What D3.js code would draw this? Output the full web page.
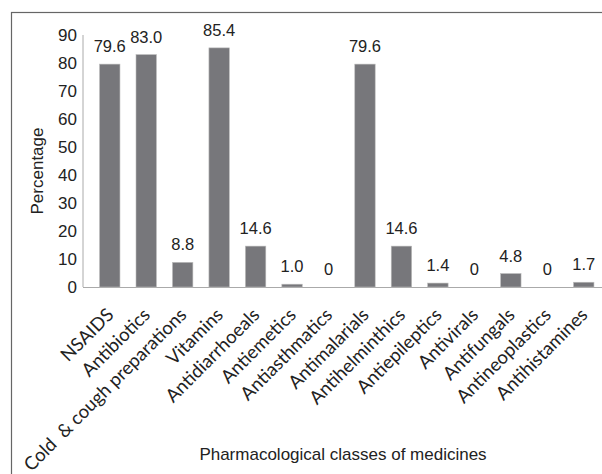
<!DOCTYPE html>
<html>
<head>
<meta charset="utf-8">
<script src="https://cdn.jsdelivr.net/npm/d3@7"></script>
<style>
  body { margin: 0; background: #fff; }
  text { font-family: "Liberation Sans", Arial, sans-serif; }
</style>
</head>
<body>
<div id="chart"></div>
<script>
var categories = ["NSAIDS", "Antibiotics", "Cold  & cough preparations", "Vitamins",
  "Antidiarrhoeals", "Antiemetics", "Antiasthmatics", "Antimalarials",
  "Antihelminthics", "Antiepileptics", "Antivirals", "Antifungals",
  "Antineoplastics", "Antihistamines"];
var values = [79.6, 83.0, 8.8, 85.4, 14.6, 1.0, 0, 79.6, 14.6, 1.4, 0, 4.8, 0, 1.7];
var valueLabels = ["79.6", "83.0", "8.8", "85.4", "14.6", "1.0", "0", "79.6", "14.6", "1.4", "0", "4.8", "0", "1.7"];
var yTicks = [0, 10, 20, 30, 40, 50, 60, 70, 80, 90];

var W = 602, H = 474;
var svg = d3.select("#chart").append("svg").attr("width", W).attr("height", H);

// outer frame
svg.append("rect")
  .attr("x", 11.5).attr("y", 12.5)
  .attr("width", W).attr("height", H)
  .attr("fill", "none").attr("stroke", "#666").attr("stroke-width", 1.2);

var x = d3.scaleBand().domain(categories).range([83.5, 610]).padding(0.44);
var y = d3.scaleLinear().domain([0, 90]).range([287, 35]);

// axes lines
svg.append("line").attr("x1", 83).attr("x2", 83).attr("y1", y(90)).attr("y2", y(0))
  .attr("stroke", "#aaa").attr("stroke-width", 1);
svg.append("line").attr("x1", 83).attr("x2", W).attr("y1", y(0) + 0.5).attr("y2", y(0) + 0.5)
  .attr("stroke", "#aaa").attr("stroke-width", 1.2);

// y tick labels
svg.selectAll(".ytick").data(yTicks).enter().append("text")
  .attr("class", "ytick")
  .attr("x", 77).attr("y", function (d) { return y(d) + 6; })
  .attr("text-anchor", "end").style("font-size", "17px").attr("fill", "#222")
  .text(function (d) { return d; });

// bars
svg.selectAll(".bar").data(values).enter().append("rect")
  .attr("class", "bar")
  .attr("x", function (d, i) { return x(categories[i]); })
  .attr("y", function (d) { return y(d); })
  .attr("width", x.bandwidth())
  .attr("height", function (d) { return y(0) - y(d); })
  .attr("fill", "#77777b")
  .attr("stroke", "#bbb").attr("stroke-width", 0.6);

// value labels
svg.selectAll(".val").data(values).enter().append("text")
  .attr("class", "val")
  .attr("x", function (d, i) { return x(categories[i]) + x.bandwidth() / 2; })
  .attr("y", function (d) { return y(d) - 12; })
  .attr("text-anchor", "middle").style("font-size", "16.5px").attr("fill", "#222")
  .text(function (d, i) { return valueLabels[i]; });

// category labels
svg.selectAll(".cat").data(categories).enter().append("text")
  .attr("class", "cat")
  .attr("transform", function (d) {
    var cx = x(d) + x.bandwidth() / 2 + 5;
    return "translate(" + cx + ",316) rotate(-45)";
  })
  .attr("text-anchor", "end")
  .style("font-family", "Lato, 'Open Sans', sans-serif")
  .style("font-size", "18.5px").attr("fill", "#222")
  .attr("xml:space", "preserve")
  .text(function (d) { return d; });

// axis titles
svg.append("text")
  .attr("transform", "translate(43," + ((y(0) + y(90)) / 2 + 10) + ") rotate(-90)")
  .attr("text-anchor", "middle").style("font-size", "17px").attr("fill", "#222")
  .text("Percentage");

svg.append("text")
  .attr("x", 343).attr("y", 460)
  .attr("text-anchor", "middle").style("font-size", "17px").attr("fill", "#222")
  .text("Pharmacological classes of medicines");
</script>
</body>
</html>
